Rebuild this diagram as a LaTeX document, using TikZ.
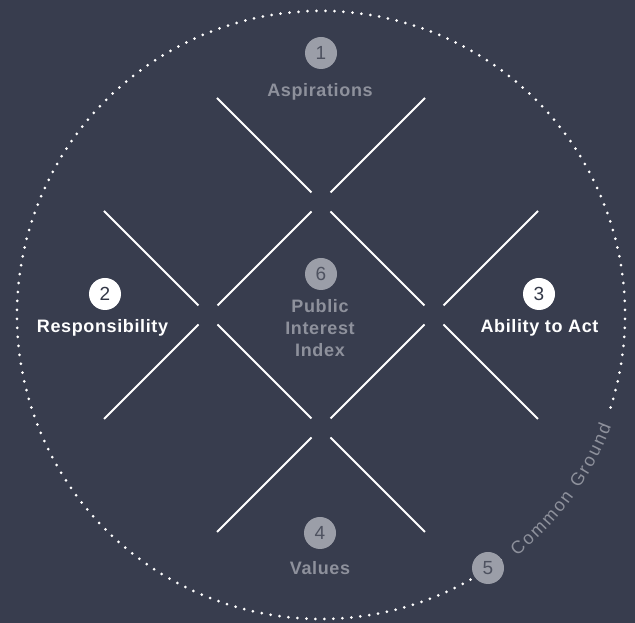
\documentclass[tikz,border=0pt]{standalone}
\usepackage{fontspec}
\setmainfont{Liberation Sans}
\usetikzlibrary{calc,decorations.text}
\definecolor{bgc}{RGB}{56,61,78}
\definecolor{grayfill}{RGB}{155,158,168}
\definecolor{graytxt}{RGB}{142,145,156}
\definecolor{darkdigit}{RGB}{78,82,96}
\begin{document}
\begin{tikzpicture}[x=1pt,y=1pt,
  seg/.style={draw=white,line width=2pt},
  numgray/.style={circle,fill=grayfill,minimum size=32pt,inner sep=0pt,text=darkdigit,font=\fontsize{19}{19}\selectfont},
  numwhite/.style={circle,fill=white,minimum size=32pt,inner sep=0pt,text=bgc!90!black,font=\fontsize{19}{19}\selectfont},
  lblgray/.style={text=graytxt,font=\fontsize{18}{22}\selectfont\bfseries\addfontfeature{LetterSpace=3.5},anchor=base,inner sep=0pt,align=center},
  lblwhite/.style={text=white,font=\fontsize{18}{22}\selectfont\bfseries\addfontfeature{LetterSpace=3.5},anchor=base,inner sep=0pt}]
\fill[bgc] (0,0) rectangle (635,623);
\useasboundingbox (0,0) rectangle (635,623);
\coordinate (O) at (321,308);
\coordinate (T) at (321,421);
\coordinate (L) at (208,308);
\coordinate (R) at (434,308);
\coordinate (B) at (321,195);
% dotted circle
\draw[white,line width=3pt,line cap=round,dash pattern=on 0pt off 9pt]
  ($(O)+(-17.7:304)$) arc[start angle=-17.7,end angle=306.8,radius=304];
% Common Ground text on arc
\path[decorate,decoration={text along path,text align={fit to path},
   text={|\fontsize{18}{18}\selectfont\color{graytxt}|Common Ground}}]
  ($(O)+(-51:311)$) arc[start angle=-51,end angle=-21,radius=311];
% lines
\foreach \P/\Q in {T/R,L/B}{
  \draw[seg] ($(\P)+(-104,104)$) -- ($(\P)+(-9.5,9.5)$);
  \draw[seg] ($(\P)+(9.5,-9.5)$) -- ($(\Q)+(-9.5,9.5)$);
  \draw[seg] ($(\Q)+(9.5,-9.5)$) -- ($(\Q)+(104,-104)$);
}
\foreach \P/\Q in {T/L,R/B}{
  \draw[seg] ($(\P)+(104,104)$) -- ($(\P)+(9.5,9.5)$);
  \draw[seg] ($(\P)+(-9.5,-9.5)$) -- ($(\Q)+(9.5,9.5)$);
  \draw[seg] ($(\Q)+(-9.5,-9.5)$) -- ($(\Q)+(-104,-104)$);
}
% numbers and labels
\node[numgray] (n1) at (321,570) {1};
\node[lblgray] (l1) at (320,526) {Aspirations};
\node[numwhite] (n2) at (105,329) {2};
\node[lblwhite] (l2) at (102.5,290) {Responsibility};
\node[numwhite] (n3) at (539,329) {3};
\node[lblwhite] (l3) at (539.5,290) {Ability to Act};
\node[numgray] (n6) at (321,349) {6};
\node[lblgray] (l6) at (320,266) {Public\\Interest\\Index};
\node[numgray] (n4) at (320,90) {4};
\node[lblgray] (l4) at (320,48) {Values};
\node[numgray] (n5) at (488,55) {5};
\end{tikzpicture}
\end{document}
